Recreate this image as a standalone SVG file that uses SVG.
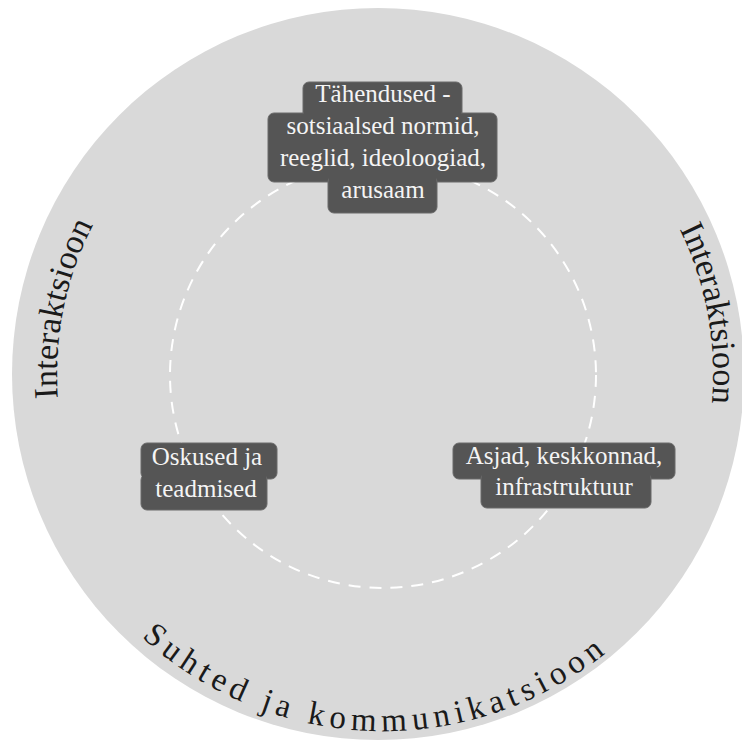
<svg xmlns="http://www.w3.org/2000/svg" width="742" height="748" viewBox="0 0 742 748">
<style>
.box{fill:#555555;stroke:#6a6a6a;stroke-width:1}
.bt{font-family:"Liberation Serif","Times New Roman",serif;font-size:25px;fill:#f4f4f4;text-anchor:middle}
.ct{font-family:"Liberation Serif","Times New Roman",serif;fill:#1a1a1a;text-anchor:middle}
</style>
<defs>
<path id="pl" d="M212.7,652 A326,326 0 0 1 334.8,51.6"/>
<path id="pr" d="M437.5,48.5 A330,330 0 0 1 550.5,658.4"/>
<path id="pb" d="M47.5,496.1 A357,357 0 0 0 718.5,496.1"/>
</defs>
<rect width="742" height="748" fill="#ffffff"/>
<circle id="outer" cx="378" cy="374" r="366" fill="#d9d9d9"/>
<g id="connectors">
<circle cx="383" cy="375" r="213" fill="none" stroke="#ffffff" stroke-width="2" stroke-dasharray="12 9"/>
</g>
<g id="labels">
<text class="ct" font-size="34"><textPath href="#pl" startOffset="50%">Interaktsioon</textPath></text>
<text class="ct" font-size="34"><textPath href="#pr" startOffset="50%">Interaktsioon</textPath></text>
<text class="ct" font-size="33" letter-spacing="5.6"><textPath href="#pb" startOffset="48.9%">Suhted ja kommunikatsioon</textPath></text>
</g>
<g id="node-tahendused">
<rect class="box" x="303" y="82" width="159" height="38" rx="6"/>
<rect class="box" x="268" y="113" width="229" height="69" rx="6"/>
<rect class="box" x="328" y="176" width="109" height="37" rx="6"/>
<rect x="304" y="110" width="157" height="8" fill="#555555"/>
<rect x="329" y="175" width="107" height="10" fill="#555555"/>
<text class="bt" x="383" y="102">Tähendused -</text>
<text class="bt" x="383" y="134">sotsiaalsed normid,</text>
<text class="bt" x="383" y="166">reeglid, ideoloogiad,</text>
<text class="bt" x="383" y="198">arusaam</text>
</g>
<g id="node-oskused">
<rect class="box" x="141" y="443" width="136" height="36" rx="6"/>
<rect class="box" x="141" y="474" width="126" height="36" rx="6"/>
<rect x="142" y="470" width="124" height="10" fill="#555555"/>
<text class="bt" x="207" y="465">Oskused ja</text>
<text class="bt" x="206" y="497">teadmised</text>
</g>
<g id="node-asjad">
<rect class="box" x="453" y="443" width="222" height="36" rx="6"/>
<rect class="box" x="481" y="473" width="170" height="35" rx="6"/>
<rect x="482" y="470" width="168" height="9" fill="#555555"/>
<text class="bt" x="564" y="464">Asjad, keskkonnad,</text>
<text class="bt" x="564" y="495">infrastruktuur</text>
</g>
</svg>
